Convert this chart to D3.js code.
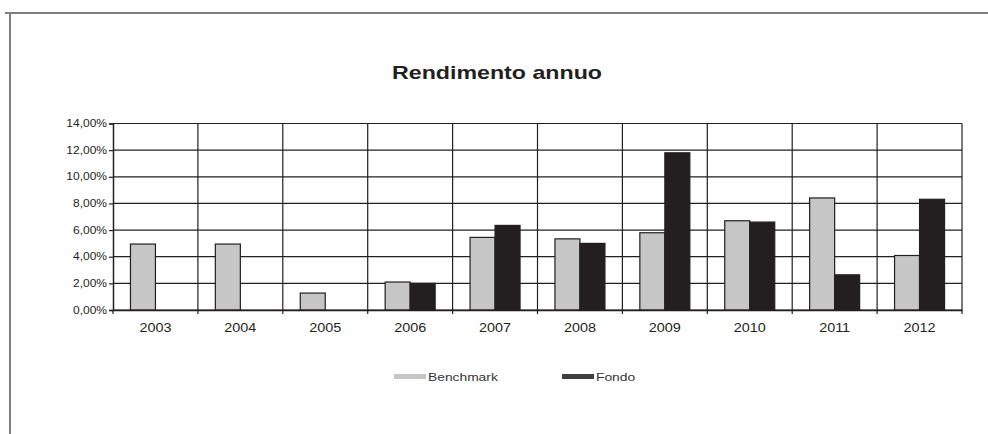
<!DOCTYPE html>
<html>
<head>
<meta charset="utf-8">
<script src="https://cdn.jsdelivr.net/npm/d3@7"></script>
<style>
	body { margin: 0; background: #fff; }
	svg { display: block; font-family: "Liberation Sans", Arial, sans-serif; }
</style>
</head>
<body>
<svg id="chart" width="988" height="434"></svg>
<script>
const years = ['2003', '2004', '2005', '2006', '2007', '2008', '2009', '2010', '2011', '2012'];
const benchmark = [4.95, 4.95, 1.27, 2.1, 5.45, 5.34, 5.8, 6.7, 8.41, 4.09];
const fondo = [null, null, null, 2.0, 6.35, 5.0, 11.8, 6.6, 2.64, 8.31];
const seriesNames = ['Benchmark', 'Fondo'];
const yTicks = [0, 2, 4, 6, 8, 10, 12, 14];

const colors = { Benchmark: '#c6c6c6', Fondo: '#231f20' };
const legendColors = { Benchmark: '#c6c6c6', Fondo: '#404040' };
const ink = '#231f20';
const stretch = 1.2; // the source picture is a bit wider than tall

const svg = d3.select('#chart');

// frame of the original page
svg.append('line').attr('x1', 5).attr('x2', 988).attr('y1', 13).attr('y2', 13)
	.attr('stroke', '#7f7f7f').attr('stroke-width', 2);
svg.append('line').attr('x1', 10).attr('x2', 10).attr('y1', 12).attr('y2', 434)
	.attr('stroke', '#7f7f7f').attr('stroke-width', 2);

function widen (sel, w) {
	sel.each(function () {
		const len = w || this.getComputedTextLength() * stretch;
		d3.select(this).attr('textLength', len).attr('lengthAdjust', 'spacingAndGlyphs');
	});
}

svg.append('text')
	.attr('x', 497).attr('y', 79)
	.attr('text-anchor', 'middle')
	.style('font-size', '18.5px').style('font-weight', 'bold')
	.attr('fill', ink)
	.text('Rendimento annuo')
	.call(widen, 210);

const plot = { left: 113, right: 962, top: 123.5, bottom: 310 };

const x = d3.scaleBand().domain(years).range([plot.left, plot.right]);
const xs = d3.scaleBand().domain(seriesNames).range([0, 50]);
const y = d3.scaleLinear().domain([0, 14]).range([plot.bottom, plot.top]);

const g = svg.append('g');

// horizontal gridlines
g.append('g').selectAll('line')
	.data(yTicks)
	.enter().append('line')
		.attr('x1', plot.left).attr('x2', plot.right)
		.attr('y1', d => y(d)).attr('y2', d => y(d))
		.attr('stroke', ink).attr('stroke-width', 1.2);

// vertical gridlines at category boundaries
g.append('g').selectAll('line')
	.data(years.slice(1).concat(['end']))
	.enter().append('line')
		.attr('x1', d => d === 'end' ? plot.right : x(d))
		.attr('x2', d => d === 'end' ? plot.right : x(d))
		.attr('y1', plot.top).attr('y2', plot.bottom)
		.attr('stroke', ink).attr('stroke-width', 1.2);

// bars
const rows = years.map((yr, i) => ({ year: yr, Benchmark: benchmark[i], Fondo: fondo[i] }));
const groups = g.append('g').selectAll('g')
	.data(rows)
	.enter().append('g')
		.attr('transform', d => `translate(${x(d.year) + (x.bandwidth() - 50) / 2},0)`);

groups.selectAll('rect')
	.data(d => seriesNames.filter(s => d[s] != null).map(s => ({ key: s, val: d[s] })))
	.enter().append('rect')
		.attr('x', d => xs(d.key))
		.attr('width', xs.bandwidth())
		.attr('y', d => y(d.val))
		.attr('height', d => y(0) - y(d.val))
		.attr('fill', d => colors[d.key])
		.attr('stroke', ink).attr('stroke-width', 1.2);

// y axis
const yAxis = d3.axisLeft(y)
	.tickValues(yTicks)
	.tickSize(4)
	.tickFormat(d => d.toFixed(2).replace('.', ',') + '%');
const ya = svg.append('g').attr('transform', `translate(${plot.left},0)`).call(yAxis);
ya.select('.domain').attr('stroke', ink).attr('stroke-width', 1.5);
ya.selectAll('.tick line').attr('stroke', ink).attr('stroke-width', 1.2);
ya.selectAll('.tick text').attr('x', -6).attr('fill', ink)
	.style('font-size', '10px').style('font-family', '"Liberation Sans", Arial, sans-serif')
	.call(widen);

// x axis
const xa = svg.append('g').attr('transform', `translate(0,${plot.bottom})`)
	.call(d3.axisBottom(x).tickSize(0).tickPadding(13));
xa.select('.domain').attr('stroke', ink).attr('stroke-width', 1.5);
xa.selectAll('.tick text').attr('fill', ink)
	.style('font-size', '12px').style('font-family', '"Liberation Sans", Arial, sans-serif')
	.call(widen);
xa.append('g').selectAll('line')
	.data(years.concat(['end']))
	.enter().append('line')
		.attr('x1', d => d === 'end' ? plot.right : x(d))
		.attr('x2', d => d === 'end' ? plot.right : x(d))
		.attr('y1', 0).attr('y2', 4)
		.attr('stroke', ink).attr('stroke-width', 1.2);

// legend
const legendX = { Benchmark: 394, Fondo: 562 };
const legend = svg.append('g').selectAll('g')
	.data(seriesNames)
	.enter().append('g')
		.attr('transform', d => `translate(${legendX[d]},374)`);
legend.append('rect')
	.attr('x', 0).attr('y', 0).attr('width', 32).attr('height', 5)
	.attr('fill', d => legendColors[d]);
legend.append('text')
	.attr('x', 34).attr('y', 7)
	.style('font-size', '11.5px')
	.attr('fill', '#333')
	.text(d => d)
	.call(widen);
</script>
</body>
</html>
